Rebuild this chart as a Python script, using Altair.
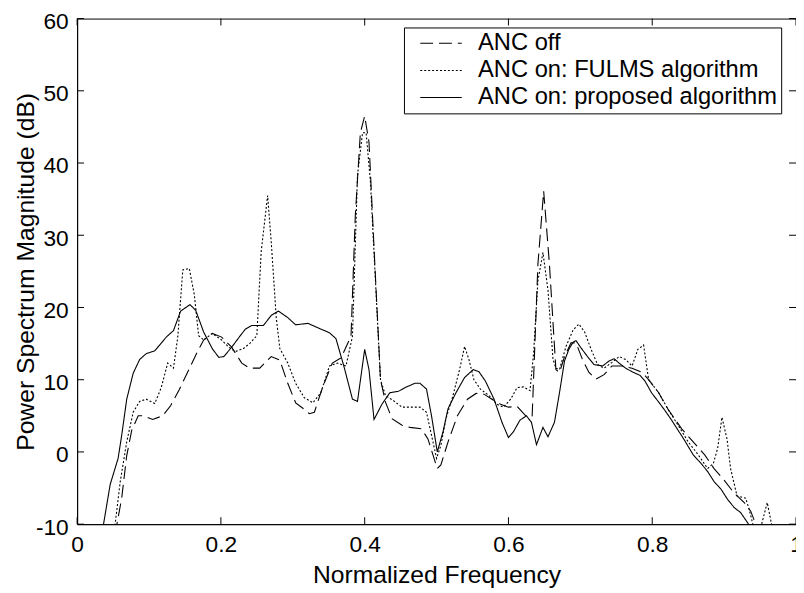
import altair as alt
import pandas as pd

series_names = ["ANC off", "ANC on: FULMS algorithm", "ANC on: proposed algorithm"]

off_f = [0.048, 0.062, 0.069, 0.076, 0.085, 0.092, 0.105, 0.119, 0.130, 0.142, 0.153, 0.165, 0.176, 0.188,
         0.201, 0.215, 0.229, 0.240, 0.254, 0.270, 0.282, 0.293, 0.304, 0.316, 0.323, 0.330, 0.342, 0.355,
         0.367, 0.381, 0.387, 0.394, 0.400, 0.406, 0.413, 0.422, 0.429, 0.438, 0.452, 0.463, 0.479, 0.488,
         0.495, 0.501, 0.506, 0.516, 0.529, 0.543, 0.555, 0.566, 0.577, 0.589, 0.600, 0.612, 0.625, 0.633,
         0.641, 0.649, 0.657, 0.666, 0.671, 0.678, 0.687, 0.694, 0.703, 0.712, 0.722, 0.733, 0.744, 0.758,
         0.772, 0.786, 0.795, 0.809, 0.822, 0.841, 0.857, 0.873, 0.886, 0.900, 0.914, 0.928, 0.937, 0.944, 0.950]
off_v = [-14.0, -6.4, -0.5, 3.0, 5.0, 5.0, 4.5, 5.0, 6.4, 8.6, 10.9, 13.4, 15.5, 16.4,
         15.9, 14.5, 12.3, 11.6, 11.6, 13.2, 12.7, 9.5, 6.8, 5.9, 5.3, 5.5, 9.1, 12.3,
         13.0, 16.0, 32.8, 44.2, 46.5, 42.9, 28.3, 10.0, 6.9, 4.6, 3.7, 3.4, 3.2, 1.8,
         -0.4, -2.3, -1.8, 1.4, 5.0, 7.3, 8.1, 8.0, 7.3, 6.6, 6.2, 6.3, 4.9, 5.0,
         26.0, 36.1, 26.0, 11.4, 11.0, 13.2, 15.1, 15.1, 12.8, 11.0, 10.1, 10.7, 11.9, 11.9,
         11.6, 11.0, 10.0, 8.2, 5.9, 3.2, 1.4, -0.4, -2.3, -3.9, -5.7, -7.0, -8.2, -10.0, -11.5]

fulms_f = [0.048, 0.060, 0.069, 0.078, 0.087, 0.096, 0.108, 0.117, 0.126, 0.134, 0.140, 0.147, 0.156, 0.163,
           0.169, 0.176, 0.188, 0.201, 0.211, 0.220, 0.231, 0.240, 0.250, 0.256, 0.265, 0.270, 0.277, 0.282,
           0.293, 0.304, 0.316, 0.328, 0.339, 0.351, 0.362, 0.374, 0.383, 0.390, 0.397, 0.402, 0.408, 0.415,
           0.422, 0.429, 0.440, 0.452, 0.463, 0.477, 0.486, 0.493, 0.500, 0.506, 0.513, 0.522, 0.532, 0.539,
           0.545, 0.552, 0.561, 0.573, 0.584, 0.593, 0.603, 0.612, 0.621, 0.630, 0.635, 0.641, 0.648, 0.655,
           0.662, 0.666, 0.671, 0.680, 0.690, 0.698, 0.706, 0.715, 0.724, 0.733, 0.744, 0.754, 0.763, 0.772,
           0.780, 0.788, 0.795, 0.809, 0.822, 0.836, 0.850, 0.864, 0.877, 0.885, 0.891, 0.897, 0.904, 0.909,
           0.918, 0.930, 0.935, 0.940, 0.947, 0.960, 0.968]
fulms_v = [-14.0, -4.1, 1.4, 5.5, 7.0, 7.3, 6.7, 8.9, 12.3, 11.6, 15.9, 25.2, 25.4, 21.8,
           16.1, 15.5, 16.4, 15.5, 14.5, 13.9, 14.3, 15.0, 16.1, 27.7, 35.5, 29.1, 18.6, 14.3,
           12.3, 9.5, 7.5, 6.8, 8.2, 11.9, 12.3, 11.9, 16.0, 38.3, 44.2, 44.2, 37.4, 23.7,
           10.0, 7.8, 7.1, 6.2, 6.2, 6.2, 5.5, 2.3, -0.9, 0.9, 4.6, 7.5, 11.4, 14.6,
           12.8, 10.0, 8.7, 7.8, 6.6, 6.2, 7.3, 8.9, 9.0, 8.5, 13.7, 23.7, 27.6, 22.4,
           12.8, 11.6, 11.4, 14.6, 16.9, 17.7, 16.6, 14.2, 12.1, 11.6, 12.4, 13.2, 12.8, 11.9,
           14.2, 14.8, 10.0, 8.2, 5.9, 3.7, 1.4, -0.4, -2.3, -1.6, 0.5, 4.8, 1.8, -2.3,
           -6.1, -6.4, -8.0, -10.0, -12.0, -7.0, -11.0]

prop_f = [0.030, 0.046, 0.057, 0.062, 0.069, 0.078, 0.087, 0.096, 0.108, 0.124, 0.134, 0.144, 0.157, 0.165,
          0.176, 0.188, 0.197, 0.204, 0.215, 0.227, 0.234, 0.243, 0.259, 0.270, 0.280, 0.293, 0.304, 0.321,
          0.337, 0.351, 0.360, 0.371, 0.383, 0.390, 0.400, 0.406, 0.413, 0.424, 0.435, 0.447, 0.458, 0.470,
          0.477, 0.486, 0.493, 0.501, 0.509, 0.516, 0.527, 0.539, 0.551, 0.559, 0.568, 0.580, 0.591, 0.600,
          0.607, 0.616, 0.625, 0.632, 0.639, 0.648, 0.655, 0.664, 0.671, 0.678, 0.684, 0.690, 0.694, 0.701,
          0.710, 0.719, 0.731, 0.740, 0.747, 0.754, 0.763, 0.772, 0.783, 0.790, 0.799, 0.809, 0.818, 0.827,
          0.836, 0.845, 0.857, 0.868, 0.877, 0.886, 0.896, 0.905, 0.914, 0.923, 0.934, 0.940]
prop_v = [-14.0, -4.5, -0.9, 2.3, 7.3, 10.9, 12.8, 13.6, 14.0, 15.9, 16.8, 19.5, 20.4, 19.6,
          16.6, 14.3, 13.1, 13.2, 14.5, 16.1, 17.0, 17.5, 17.5, 18.9, 19.5, 18.6, 17.6, 17.8,
          17.1, 16.5, 15.7, 11.9, 7.3, 7.0, 14.2, 11.4, 4.5, 6.6, 8.2, 8.4, 9.0, 9.5,
          9.5, 8.7, 5.0, 0.0, 2.8, 6.0, 8.2, 10.3, 11.4, 11.1, 9.8, 7.3, 4.1, 2.0,
          2.8, 4.4, 5.0, 4.1, 1.0, 3.4, 2.1, 4.1, 8.2, 12.6, 14.2, 15.2, 15.4, 14.4,
          13.2, 12.1, 11.9, 12.6, 12.9, 12.3, 11.6, 11.1, 10.6, 9.8, 8.2, 6.9, 5.7, 4.4,
          3.0, 1.6, -0.4, -1.6, -2.7, -4.1, -5.2, -6.6, -7.7, -8.4, -10.0, -11.5]

x_ticks = [0, 0.2, 0.4, 0.6, 0.8, 1.0]
y_ticks = [-10, 0, 10, 20, 30, 40, 50, 60]

W, H = 728, 512
FONT = "Liberation Sans"

df = pd.concat([
    pd.DataFrame({"f": off_f, "v": off_v, "series": series_names[0]}),
    pd.DataFrame({"f": fulms_f, "v": fulms_v, "series": series_names[1]}),
    pd.DataFrame({"f": prop_f, "v": prop_v, "series": series_names[2]}),
], ignore_index=True)

xscale = alt.Scale(domain=[0, 1], nice=False, zero=False)
yscale = alt.Scale(domain=[-10, 60], nice=False, zero=False)
xaxis = alt.Axis(title="Normalized Frequency", values=x_ticks, format="~g", ticks=False, grid=False,
                 labelPadding=10, titlePadding=6, labelFlush=False, labelOverlap=False)
yaxis = alt.Axis(title="Power Spectrum Magnitude (dB)", values=y_ticks, ticks=False, grid=False,
                 labelExpr="'' + datum.value", labelPadding=9, labelOffset=3,
                 labelFlush=False, labelOverlap=False,
                 titleAngle=270, titleAlign="center", titleBaseline="alphabetic",
                 titleX=-44, titleY=H / 2)

lines = alt.Chart(df).mark_line(clip=True, color="black", strokeWidth=1.1).encode(
    x=alt.X("f:Q", scale=xscale, axis=xaxis),
    y=alt.Y("v:Q", scale=yscale, axis=yaxis),
    strokeDash=alt.StrokeDash(
        "series:N",
        scale=alt.Scale(domain=series_names, range=[[13, 6], [2, 2], [1, 0]]),
        legend=alt.Legend(title=None, orient="none", legendX=331, legendY=9,
                          symbolType="M-2,0H2", symbolSize=441, symbolStrokeWidth=1.1,
                          symbolStrokeColor="black", labelFontSize=24, labelFont=FONT,
                          labelColor="black", labelLimit=0, fillColor="white", strokeColor="black",
                          padding=4, rowPadding=3.5, symbolOffset=21.5, labelOffset=25.5),
    ),
)

ydf = pd.DataFrame({"v": y_ticks})
xdf = pd.DataFrame({"f": x_ticks})

left_ticks = alt.Chart(ydf).mark_rule(color="black", strokeWidth=1).encode(
    y=alt.Y("v:Q", scale=yscale, axis=yaxis), x=alt.value(0), x2=alt.value(7))
right_ticks = alt.Chart(ydf).mark_rule(color="black", strokeWidth=1).encode(
    y=alt.Y("v:Q", scale=yscale, axis=yaxis), x=alt.value(W - 7), x2=alt.value(W))
bottom_ticks = alt.Chart(xdf).mark_rule(color="black", strokeWidth=1).encode(
    x=alt.X("f:Q", scale=xscale, axis=xaxis), y=alt.value(H - 7), y2=alt.value(H))
top_ticks = alt.Chart(xdf).mark_rule(color="black", strokeWidth=1).encode(
    x=alt.X("f:Q", scale=xscale, axis=xaxis), y=alt.value(0), y2=alt.value(7))

chart = alt.layer(lines, left_ticks, right_ticks, bottom_ticks, top_ticks).properties(
    width=W, height=H,
    autosize=alt.AutoSizeParams(type="none"),
    padding={"left": 70, "top": 7, "right": 0, "bottom": 66},
    background="white",
).configure_view(
    stroke="black", strokeWidth=1
).configure_axis(
    domainColor="black", domainWidth=1, labelColor="black", titleColor="black",
    labelFont=FONT, titleFont=FONT, labelFontSize=23, titleFontSize=25, titleFontWeight="normal",
)

chart.save("out.html", embed_options={"renderer": "svg", "actions": False})
